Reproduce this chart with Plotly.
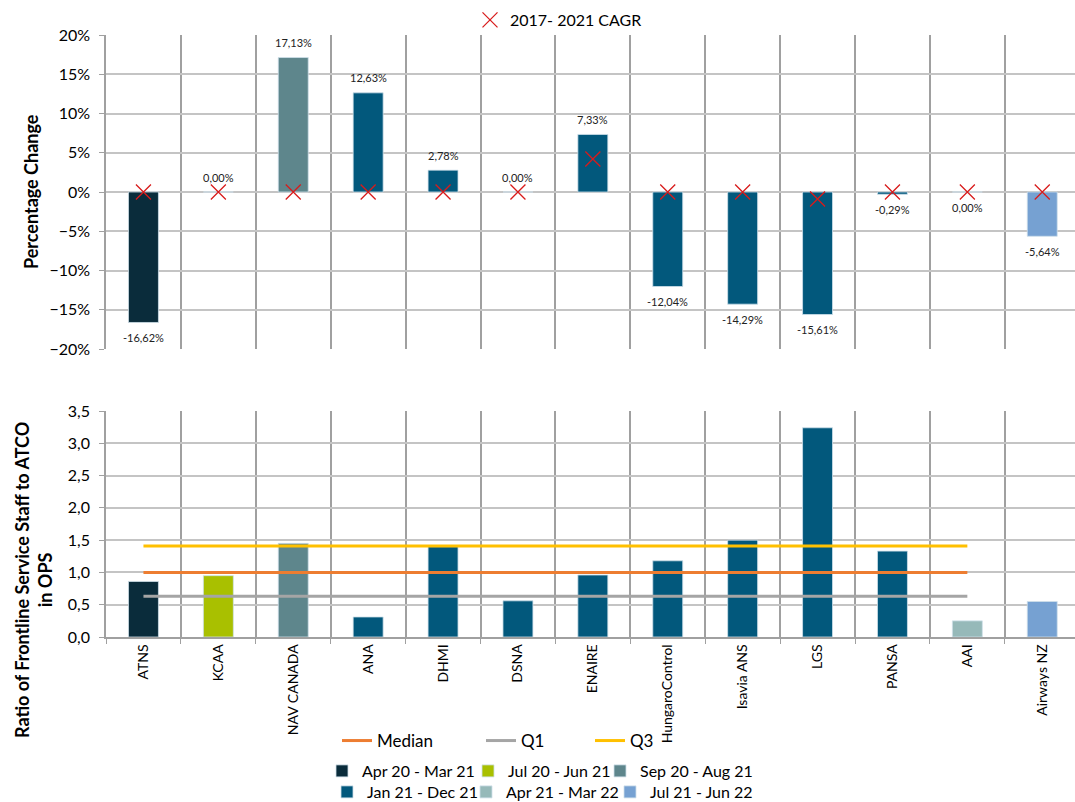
import plotly.graph_objects as go

# ---------------- data ----------------
categories = ["ATNS", "KCAA", "NAV CANADA", "ANA", "DHMI", "DSNA", "ENAIRE",
              "HungaroControl", "Isavia ANS", "LGS", "PANSA", "AAI", "Airways NZ"]
periods = ["Apr 20 - Mar 21", "Jul 20 - Jun 21", "Sep 20 - Aug 21",
           "Jan 21 - Dec 21", "Apr 21 - Mar 22", "Jul 21 - Jun 22"]
category_period = ["Apr 20 - Mar 21", "Jul 20 - Jun 21", "Sep 20 - Aug 21",
                   "Jan 21 - Dec 21", "Jan 21 - Dec 21", "Jan 21 - Dec 21",
                   "Jan 21 - Dec 21", "Jan 21 - Dec 21", "Jan 21 - Dec 21",
                   "Jan 21 - Dec 21", "Jan 21 - Dec 21", "Apr 21 - Mar 22",
                   "Jul 21 - Jun 22"]
pct_change = [-16.62, 0.00, 17.13, 12.63, 2.78, 0.00, 7.33,
              -12.04, -14.29, -15.61, -0.29, 0.00, -5.64]
cagr_2017_2021 = [0.0, 0.0, 0.0, 0.0, 0.0, 0.0, 4.2,
                  0.0, 0.0, -0.9, 0.0, 0.0, 0.0]
ratio_fss_atco = [0.86, 0.95, 1.45, 0.31, 1.40, 0.56, 0.96,
                  1.18, 1.50, 3.24, 1.33, 0.25, 0.55]
stat_names = ["Median", "Q1", "Q3"]
stat_values = [1.00, 0.63, 1.41]
stat_categories = categories[:12]
zero_label_below = {"AAI"}

# ---------------- styles ----------------
period_colors = {
    "Apr 20 - Mar 21": "#0a2c3b",
    "Jul 20 - Jun 21": "#a9c000",
    "Sep 20 - Aug 21": "#5e868c",
    "Jan 21 - Dec 21": "#02587c",
    "Apr 21 - Mar 22": "#96b9b9",
    "Jul 21 - Jun 22": "#76a1d2",
}
stat_colors = {"Median": "#ed7d31", "Q1": "#a5a5a5", "Q3": "#ffc000"}
FONT = "Lato"
GRID_H = "#c4c4c4"
GRID_V = "#a0a0a0"

FW, FH = 1075, 802
L = 106
CAT_PX = 74.9
x_right = -0.5 + (FW - L) / CAT_PX

# legend placement (pixel left edge, pixel centre y), one legend per entry
period_legend_pos = [(322, 771), (468, 771), (600, 771),
                     (327, 792), (466, 792), (610, 792)]
stat_legend_pos = [(337, 741), (481, 741), (590, 741)]


def cy(y):
    return 1 - y / FH


def cx(x):
    return x / FW


def px_y(y):
    return 1 - y / FH


def px_x(x):
    return (x - L) / (FW - L)


fig = go.Figure()
legends = {}
leg_common = dict(orientation="h", xanchor="left", yanchor="middle",
                  xref="container", yref="container", itemwidth=30,
                  bgcolor="rgba(0,0,0,0)")

for i, p in enumerate(periods):
    xs = [c for c, pp in zip(categories, category_period) if pp == p]
    ys_top = [v for v, pp in zip(pct_change, category_period) if pp == p]
    ys_bot = [v for v, pp in zip(ratio_fss_atco, category_period) if pp == p]
    leg = f"legend{3 + i}"
    lx, ly = period_legend_pos[i]
    legends[leg] = dict(**leg_common, x=cx(lx), y=cy(ly),
                        font=dict(family=FONT, size=16, color="#000"))
    fig.add_trace(go.Bar(
        x=xs, y=ys_top, name=p, width=0.4,
        marker=dict(color=period_colors[p], line=dict(color="#cfe0ea", width=0.8)),
        xaxis="x", yaxis="y", legend=leg, showlegend=True,
    ))
    fig.add_trace(go.Bar(
        x=xs, y=ys_bot, name=p, width=0.4,
        marker=dict(color=period_colors[p], line=dict(color="#cfe0ea", width=0.8)),
        xaxis="x2", yaxis="y2", showlegend=False,
    ))

fig.add_trace(go.Scatter(
    x=categories, y=cagr_2017_2021, mode="markers", name="2017- 2021 CAGR",
    marker=dict(symbol="x-thin", size=15, line=dict(color="#d81b1b", width=1.3),
                color="#d81b1b"),
    xaxis="x", yaxis="y", legend="legend",
))

for j, (name, val) in enumerate(zip(stat_names, stat_values)):
    leg = "legend2" if j == 0 else f"legend{9 + j}"
    lx, ly = stat_legend_pos[j]
    legends[leg] = dict(**leg_common, x=cx(lx), y=cy(ly),
                        font=dict(family=FONT, size=17, color="#000"))
    fig.add_trace(go.Scatter(
        x=stat_categories, y=[val] * len(stat_categories), mode="lines", name=name,
        line=dict(color=stat_colors[name], width=3), xaxis="x2", yaxis="y2",
        legend=leg,
    ))

# data labels
annotations = []
for c, v in zip(categories, pct_change):
    below = v < 0 or (v == 0 and c in zero_label_below)
    annotations.append(dict(
        x=c, y=v, xref="x", yref="y", text=f"{v:.2f}%".replace(".", ","),
        showarrow=False, yshift=-15 if below else 15,
        font=dict(family=FONT, size=11, color="#222222"),
    ))

annotations.append(dict(
    x=px_x(31), y=px_y(192), xref="paper", yref="paper",
    text="<b>Percentage Change</b>", textangle=-90, showarrow=False,
    xanchor="center", yanchor="middle",
    font=dict(family=FONT, size=18, color="#000"),
))
annotations.append(dict(
    x=px_x(33), y=px_y(580), xref="paper", yref="paper",
    text="<b>Ratio of Frontline Service Staff to ATCO<br>in OPS</b>",
    textangle=-90, showarrow=False, xanchor="center", yanchor="middle",
    font=dict(family=FONT, size=18, color="#000"),
))

xaxis_common = dict(
    type="category", categoryorder="array", categoryarray=categories,
    range=[-0.5, x_right], tickson="boundaries", showgrid=True, gridcolor=GRID_V,
    gridwidth=1.5, zeroline=False,
)

fig.update_layout(
    width=FW, height=FH,
    margin=dict(l=L, r=0, t=0, b=0, autoexpand=False),
    paper_bgcolor="white", plot_bgcolor="white",
    separators=", ",
    barmode="overlay",
    font=dict(family=FONT, size=16, color="#000"),
    xaxis=dict(**xaxis_common, domain=[0, 1], anchor="y", showticklabels=False,
               ticks="", showline=False),
    yaxis=dict(domain=[px_y(349), px_y(35)], anchor="x", range=[-20, 20],
               dtick=5, ticksuffix="%", showgrid=True, gridcolor=GRID_H,
               gridwidth=2, zeroline=True, zerolinecolor=GRID_H, zerolinewidth=2,
               ticks="outside", ticklen=5, tickcolor=GRID_V, ticklabelstandoff=6,
               tickfont=dict(family=FONT, size=16, color="#000"),
               showline=True, linecolor=GRID_V, linewidth=1.5),
    xaxis2=dict(**xaxis_common, domain=[0, 1], anchor="y2", tickangle=-90,
                ticks="outside", ticklen=5, tickcolor=GRID_V,
                tickfont=dict(family=FONT, size=14, color="#000"),
                showline=True, linecolor=GRID_V, linewidth=1.5),
    yaxis2=dict(domain=[px_y(637), px_y(411)], anchor="x2", range=[0, 3.5],
                dtick=0.5, tickformat=".1f", showgrid=True, gridcolor=GRID_H,
                gridwidth=2, zeroline=False,
                ticks="outside", ticklen=5, tickcolor=GRID_V, ticklabelstandoff=6,
                tickfont=dict(family=FONT, size=16, color="#000"),
                showline=True, linecolor=GRID_V, linewidth=1.5),
    annotations=annotations,
    legend=dict(**leg_common, x=cx(470), y=cy(20),
                font=dict(family=FONT, size=16, color="#000")),
    **legends,
)

fig.write_html("out.html", config={"displayModeBar": False},
               post_script="document.body.style.margin='0';")
